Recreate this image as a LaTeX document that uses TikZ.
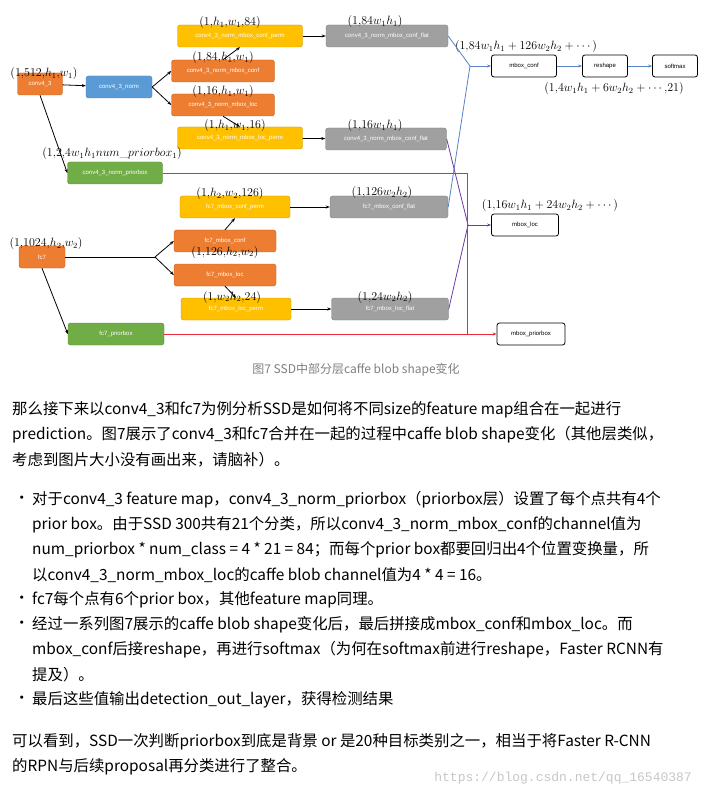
\documentclass[tikz,border=0pt]{standalone}
\usepackage{fontspec}
\usepackage{amsmath}
\newfontfamily\cjk{Noto Sans CJK SC}
\newfontfamily\boxf{Liberation Sans}
\newfontfamily\wmf{Liberation Mono}
\usetikzlibrary{arrows.meta}
\definecolor{cor}{RGB}{237,125,49}
\definecolor{cbl}{RGB}{91,155,213}
\definecolor{cye}{RGB}{255,192,0}
\definecolor{cgr}{RGB}{112,173,71}
\definecolor{cgy}{RGB}{160,160,160}
\definecolor{lblue}{RGB}{90,130,200}
\definecolor{lpur}{RGB}{110,60,160}
\definecolor{lred}{RGB}{235,40,60}
\begin{document}
\begin{tikzpicture}[x=1pt,y=-1pt,
  bx/.style={rounded corners=2.5pt,minimum height=22pt,inner sep=0pt,text=white,font=\boxf\fontsize{6}{7}\selectfont},
  ob/.style={bx,fill=cor,draw=cor!80!black},
  bb/.style={bx,fill=cbl,draw=cbl!80!black},
  yb/.style={bx,fill=cye,draw=cye!80!black},
  gb/.style={bx,fill=cgr,draw=cgr!80!black},
  sb/.style={bx,fill=cgy,draw=cgy!80!black},
  wb/.style={bx,fill=white,draw=black,thick,text=black},
  lb/.style={font=\fontsize{11.5}{12}\selectfont,inner sep=0pt},
  ar/.style={-{Stealth[length=4pt]},thick},
  tl/.style={anchor=west,inner sep=0pt,font=\cjk\fontsize{15.4}{18}\selectfont}]
\useasboundingbox[fill=white] (0,0) rectangle (703,799);
% nodes
\node[ob,minimum width=45pt] (c43) at (40,84) {conv4\_3};
\node[bb,minimum width=66pt] (norm) at (119,87) {conv4\_3\_norm};
\node[yb,minimum width=125pt] (cperm) at (240,36) {conv4\_3\_norm\_mbox\_conf\_perm};
\node[ob,minimum width=103pt] (cconf) at (223,71) {conv4\_3\_norm\_mbox\_conf};
\node[ob,minimum width=103pt] (cloc) at (223,105) {conv4\_3\_norm\_mbox\_loc};
\node[yb,minimum width=125pt] (lperm) at (240,138) {conv4\_3\_norm\_mbox\_loc\_perm};
\node[sb,minimum width=122pt] (cflat) at (387,36) {conv4\_3\_norm\_mbox\_conf\_flat};
\node[sb,minimum width=121pt] (lflat) at (386,139) {conv4\_3\_norm\_mbox\_conf\_flat};
\node[gb,minimum width=95pt] (cpb) at (115,173) {conv4\_3\_norm\_priorbox};
\node[ob,minimum width=46pt] (fc7) at (42,257) {fc7};
\node[yb,minimum width=110pt] (fcperm) at (235,207) {fc7\_mbox\_conf\_perm};
\node[ob,minimum width=102pt] (fconf) at (225,241) {fc7\_mbox\_conf};
\node[ob,minimum width=102pt] (floc) at (225,275) {fc7\_mbox\_loc};
\node[yb,minimum width=110pt] (flperm) at (236,309) {fc7\_mbox\_loc\_perm};
\node[sb,minimum width=118pt] (fcflat) at (389,207) {fc7\_mbox\_conf\_flat};
\node[sb,minimum width=117pt] (flflat) at (390,309) {fc7\_mbox\_loc\_flat};
\node[gb,minimum width=96pt] (fpb) at (116,334) {fc7\_priorbox};
\node[wb,minimum width=65pt] (mconf) at (524,66) {mbox\_conf};
\node[wb,minimum width=45pt] (resh) at (605,66) {reshape};
\node[wb,minimum width=45pt] (soft) at (675,66) {softmax};
\node[wb,minimum width=67pt] (mloc) at (525,225) {mbox\_loc};
\node[wb,minimum width=68pt] (mpb) at (531,334) {mbox\_priorbox};
% labels
\node[lb] (l1) at (44,74) {$(1{,}512{,}h_1{,}w_1)$};
\node[lb] (l2) at (230,23) {$(1{,}h_1{,}w_1{,}84)$};
\node[lb] (l3) at (223,58) {$(1{,}84{,}h_1{,}w_1)$};
\node[lb] (l4) at (223,92) {$(1{,}16{,}h_1{,}w_1)$};
\node[lb] (l5) at (235,126) {$(1{,}h_1{,}w_1{,}16)$};
\node[lb] (l6) at (375,22) {$(1{,}84w_1h_1)$};
\node[lb] (l7) at (375,126) {$(1{,}16w_1h_1)$};
\node[lb] (l8) at (112,154) {$(1{,}2{,}4w_1h_1num\_priorbox_1)$};
\node[lb] (l9) at (46,244) {$(1{,}1024{,}h_2{,}w_2)$};
\node[lb] (l10) at (230,194) {$(1{,}h_2{,}w_2{,}126)$};
\node[lb] (l11) at (225,252) {$(1{,}126{,}h_2{,}w_2)$};
\node[lb] (l12) at (232,297) {$(1{,}w_2h_2{,}24)$};
\node[lb] (l13) at (382,193) {$(1{,}126w_2h_2)$};
\node[lb] (l14) at (385,297) {$(1{,}24w_2h_2)$};
\node[lb] (l15) at (526,47) {$(1{,}84w_1h_1+126w_2h_2+\cdots)$};
\node[lb] (l16) at (614,89) {$(1{,}4w_1h_1+6w_2h_2+\cdots{,}21)$};
\node[lb] (l17) at (550,206) {$(1{,}16w_1h_1+24w_2h_2+\cdots)$};
% connectors
\draw[ar] (c43) -- (norm);
\draw[ar] (norm.east) -- (cconf.west);
\draw[ar] (norm.east) -- (cloc.west);
\draw[ar] (cconf.north) -- (cperm.south);
\draw[ar] (cloc.south) -- (lperm.north);
\draw[ar] (cperm) -- (cflat);
\draw[ar] (lperm) -- (lflat);
\draw[ar] (c43.south) -- (cpb.west);
\coordinate (fj) at (155,257);
\draw[thick] (fc7) -- (fj);
\draw[ar] (fj) -- (fconf.west);
\draw[ar] (fj) -- (floc.west);
\draw[ar] (fconf.north) -- (fcperm.south);
\draw[ar] (floc.south) -- (flperm.north);
\draw[ar] (fcperm) -- (fcflat);
\draw[ar] (flperm) -- (flflat);
\draw[ar] (fc7.south) -- (fpb.west);
\coordinate (bj) at (470,66);
\draw[lblue,thick] (cflat.east) -- (bj);
\draw[lblue,thick] (fcflat.east) -- (bj);
\draw[lblue,ar] (bj) -- (mconf);
\draw[lblue,ar] (mconf) -- (resh);
\draw[lblue,ar] (resh) -- (soft);
\coordinate (pj) at (468,225);
\draw[lpur,thick] (lflat.east) -- (pj);
\draw[lpur,thick] (flflat.east) -- (pj);
\draw[lpur,ar] (pj) -- (mloc);
\coordinate (rc) at (467,173);
\coordinate (rj) at (467,334);
\draw[lred,thick] (cpb.east) -- (rc) -- (rj);
\draw[lred,ar] (fpb.east) -- (mpb.west);
% caption
\node[text=gray,font=\cjk\fontsize{12}{14}\selectfont] (cap) at (356,370) {图7 SSD中部分层caffe blob shape变化};
% body text
\node[tl] (t1) at (12,410) {那么接下来以conv4\_3和fc7为例分析SSD是如何将不同size的feature map组合在一起进行};
\node[tl] (t2) at (12,435) {prediction。图7展示了conv4\_3和fc7合并在一起的过程中caffe blob shape变化（其他层类似，};
\node[tl] (t3) at (12,460) {考虑到图片大小没有画出来，请脑补）。};
\node[tl] (b1) at (14,500) {•};
\node[tl] (t4) at (32,500) {对于conv4\_3 feature map，conv4\_3\_norm\_priorbox（priorbox层）设置了每个点共有4个};
\node[tl] (t5) at (32,525) {prior box。由于SSD 300共有21个分类，所以conv4\_3\_norm\_mbox\_conf的channel值为};
\node[tl] (t6) at (32,550) {num\_priorbox * num\_class = 4 * 21 = 84；而每个prior box都要回归出4个位置变换量，所};
\node[tl] (t7) at (32,575) {以conv4\_3\_norm\_mbox\_loc的caffe blob channel值为4 * 4 = 16。};
\node[tl] (b2) at (14,600) {•};
\node[tl] (t8) at (32,600) {fc7每个点有6个prior box，其他feature map同理。};
\node[tl] (b3) at (14,625) {•};
\node[tl] (t9) at (32,625) {经过一系列图7展示的caffe blob shape变化后，最后拼接成mbox\_conf和mbox\_loc。而};
\node[tl] (t10) at (32,650) {mbox\_conf后接reshape，再进行softmax（为何在softmax前进行reshape，Faster RCNN有};
\node[tl] (t11) at (32,675) {提及）。};
\node[tl] (b4) at (14,700) {•};
\node[tl] (t12) at (32,700) {最后这些值输出detection\_out\_layer，获得检测结果};
\node[tl] (t13) at (12,742) {可以看到，SSD一次判断priorbox到底是背景 or 是20种目标类别之一，相当于将Faster R-CNN};
\node[tl] (t14) at (12,767) {的RPN与后续proposal再分类进行了整合。};
\node[anchor=east,inner sep=0pt,text=black!22,font=\wmf\fontsize{13}{15}\selectfont] (wm) at (692,778) {https://blog.csdn.net/qq\_16540387};
\end{tikzpicture}
\end{document}
